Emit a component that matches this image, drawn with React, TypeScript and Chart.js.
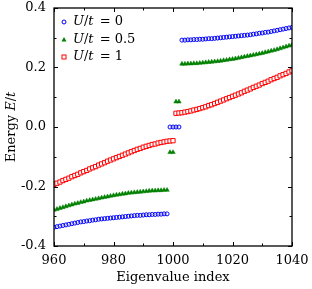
import React, { useEffect, useRef } from "react";
import { Chart, registerables } from "chart.js";

Chart.register(...registerables);

// U/t = 0 (blue)
const blueLowerStart = 960;
const blueLower = [
  -0.337, -0.335, -0.333, -0.331, -0.329, -0.327, -0.325, -0.323, -0.321, -0.319,
  -0.318, -0.316, -0.315, -0.313, -0.312, -0.31, -0.309, -0.308, -0.307, -0.306,
  -0.305, -0.304, -0.303, -0.302, -0.301, -0.3, -0.299, -0.298, -0.297, -0.297,
  -0.296, -0.295, -0.295, -0.294, -0.294, -0.293, -0.293, -0.292, -0.292,
];
const blueMidStart = 999;
const blueMid = [0, 0, 0, 0];
const blueUpperStart = 1003;
const blueUpper = [
  0.292, 0.292, 0.293, 0.293, 0.294, 0.294, 0.295, 0.295, 0.296, 0.297,
  0.297, 0.298, 0.299, 0.3, 0.301, 0.302, 0.303, 0.304, 0.305, 0.306,
  0.307, 0.308, 0.309, 0.31, 0.312, 0.313, 0.315, 0.316, 0.318, 0.319,
  0.321, 0.323, 0.325, 0.327, 0.329, 0.331, 0.333, 0.335,
];

// U/t = 0.5 (green)
const greenLowerStart = 960;
const greenLower = [
  -0.279, -0.276, -0.273, -0.27, -0.267, -0.264, -0.261, -0.258, -0.256, -0.253,
  -0.251, -0.248, -0.246, -0.244, -0.242, -0.24, -0.238, -0.236, -0.234, -0.232,
  -0.23, -0.228, -0.227, -0.225, -0.224, -0.222, -0.221, -0.22, -0.219, -0.218,
  -0.217, -0.216, -0.215, -0.214, -0.214, -0.213, -0.213, -0.212, -0.212,
];
const greenMidStart = 999;
const greenMid = [-0.085, -0.085, 0.085, 0.085];
const greenUpperStart = 1003;
const greenUpper = [
  0.212, 0.212, 0.213, 0.213, 0.214, 0.214, 0.215, 0.216, 0.217, 0.218,
  0.219, 0.22, 0.221, 0.222, 0.224, 0.225, 0.227, 0.228, 0.23, 0.232,
  0.234, 0.236, 0.238, 0.24, 0.242, 0.244, 0.246, 0.248, 0.251, 0.253,
  0.256, 0.258, 0.261, 0.264, 0.267, 0.27, 0.273, 0.276,
];

// U/t = 1 (red)
const redLowerStart = 960;
const redLower = [
  -0.193, -0.189, -0.185, -0.18, -0.176, -0.172, -0.167, -0.163, -0.159, -0.154,
  -0.15, -0.146, -0.141, -0.137, -0.133, -0.128, -0.124, -0.12, -0.115, -0.111,
  -0.107, -0.103, -0.099, -0.095, -0.091, -0.087, -0.083, -0.079, -0.075, -0.072,
  -0.068, -0.065, -0.062, -0.059, -0.057, -0.054, -0.052, -0.05, -0.048, -0.047,
  -0.046,
];
const redUpperStart = 1001;
const redUpper = [
  0.046, 0.047, 0.048, 0.05, 0.052, 0.054, 0.057, 0.059, 0.062, 0.065,
  0.068, 0.072, 0.075, 0.079, 0.083, 0.087, 0.091, 0.095, 0.099, 0.103,
  0.107, 0.111, 0.115, 0.12, 0.124, 0.128, 0.133, 0.137, 0.141, 0.146,
  0.15, 0.154, 0.159, 0.163, 0.167, 0.172, 0.176, 0.18, 0.185, 0.189,
];

const seriesLabels = ["0", "0.5", "1"];
const xTicksMajor = [960, 980, 1000, 1020, 1040];
const xTicksMinor = [970, 990, 1010, 1030];
const yTicksMajor = [-0.4, -0.2, 0, 0.2, 0.4];
const yTicksMinor = [-0.3, -0.1, 0.1, 0.3];

const FONT = "'DejaVu Serif', serif";

function seg(start: number, vals: number[]) {
  return vals.map((v, i) => ({ x: start + i, y: v }));
}

const framePlugin = {
  id: "frameTicks",
  afterDatasetsDraw(chart: any) {
    const { ctx, chartArea } = chart;
    const { left, right, top, bottom } = chartArea;
    const xs = chart.scales.x;
    const ys = chart.scales.y;
    ctx.save();
    ctx.strokeStyle = "#000";
    ctx.lineWidth = 1;
    const tick = (vals: number[], len: number) => {
      vals.forEach((v) => {
        const px = Math.round(xs.getPixelForValue(v)) + 0.5;
        ctx.beginPath();
        ctx.moveTo(px, bottom);
        ctx.lineTo(px, bottom - len);
        ctx.moveTo(px, top);
        ctx.lineTo(px, top + len);
        ctx.stroke();
      });
    };
    const ytick = (vals: number[], len: number) => {
      vals.forEach((v) => {
        const py = Math.round(ys.getPixelForValue(v)) + 0.5;
        ctx.beginPath();
        ctx.moveTo(left, py);
        ctx.lineTo(left + len, py);
        ctx.moveTo(right, py);
        ctx.lineTo(right - len, py);
        ctx.stroke();
      });
    };
    tick(xTicksMajor, 4);
    tick(xTicksMinor, 2.5);
    ytick(yTicksMajor, 4);
    ytick(yTicksMinor, 2.5);
    ctx.lineWidth = 1.3;
    ctx.strokeRect(left, top, right - left, bottom - top);

    // legend
    const colors = ["#0000ff", "#008000", "#ff0000"];
    const styles = ["circle", "triangle", "rect"];
    const lx = left + 10;
    const ly0 = top + 14;
    const dy = 17.5;
    seriesLabels.forEach((lab, i) => {
      const y = ly0 + i * dy;
      ctx.save();
      ctx.strokeStyle = colors[i];
      ctx.fillStyle = colors[i];
      ctx.lineWidth = 1;
      if (styles[i] === "circle") {
        ctx.beginPath();
        ctx.arc(lx, y, 2, 0, Math.PI * 2);
        ctx.stroke();
      } else if (styles[i] === "triangle") {
        ctx.beginPath();
        ctx.moveTo(lx, y - 2.5);
        ctx.lineTo(lx + 2.5, y + 2);
        ctx.lineTo(lx - 2.5, y + 2);
        ctx.closePath();
        ctx.fill();
      } else {
        ctx.strokeRect(lx - 2, y - 2, 4, 4);
      }
      ctx.restore();
      ctx.fillStyle = "#000";
      ctx.textBaseline = "middle";
      ctx.textAlign = "left";
      ctx.font = "italic 13px " + FONT;
      let x = lx + 9;
      ctx.fillText("U", x, y);
      x += ctx.measureText("U").width;
      ctx.font = "13px " + FONT;
      ctx.fillText("/", x, y);
      x += ctx.measureText("/").width;
      ctx.font = "italic 13px " + FONT;
      ctx.fillText("t", x, y);
      x += ctx.measureText("t").width;
      ctx.font = "13px " + FONT;
      ctx.fillText(" = " + lab, x + 2, y);
    });

    // y title
    ctx.save();
    ctx.translate(12, (top + bottom) / 2);
    ctx.rotate(-Math.PI / 2);
    ctx.textBaseline = "middle";
    ctx.textAlign = "left";
    ctx.font = "13px " + FONT;
    const p1 = "Energy ";
    const w1 = ctx.measureText(p1).width;
    ctx.font = "italic 13px " + FONT;
    const wE = ctx.measureText("E").width;
    ctx.font = "13px " + FONT;
    const wS = ctx.measureText("/").width;
    ctx.font = "italic 13px " + FONT;
    const wt = ctx.measureText("t").width;
    let x = -(w1 + wE + wS + wt) / 2;
    ctx.font = "13px " + FONT;
    ctx.fillText(p1, x, 0);
    x += w1;
    ctx.font = "italic 13px " + FONT;
    ctx.fillText("E", x, 0);
    x += wE;
    ctx.font = "13px " + FONT;
    ctx.fillText("/", x, 0);
    x += wS;
    ctx.font = "italic 13px " + FONT;
    ctx.fillText("t", x, 0);
    ctx.restore();

    // x title
    ctx.textAlign = "center";
    ctx.textBaseline = "middle";
    ctx.font = "13px " + FONT;
    ctx.fillText("Eigenvalue index", (left + right) / 2, 278);
    ctx.restore();
  },
};

function zeroPad(s: any) {
  s.paddingLeft = 0;
  s.paddingRight = 0;
  s.paddingTop = 0;
  s.paddingBottom = 0;
}

export default function App() {
  const ref = useRef<HTMLCanvasElement | null>(null);
  useEffect(() => {
    if (!ref.current) return;
    const blue = [...seg(blueLowerStart, blueLower), ...seg(blueMidStart, blueMid), ...seg(blueUpperStart, blueUpper)];
    const green = [...seg(greenLowerStart, greenLower), ...seg(greenMidStart, greenMid), ...seg(greenUpperStart, greenUpper)];
    const red = [...seg(redLowerStart, redLower), ...seg(redUpperStart, redUpper)];
    const chart = new Chart(ref.current, {
      type: "scatter",
      data: {
        datasets: [
          {
            label: "U/t = 0",
            data: blue,
            pointStyle: "circle",
            pointRadius: 2,
            borderColor: "#0000ff",
            backgroundColor: "rgba(255,255,255,0)",
            borderWidth: 1,
          },
          {
            label: "U/t = 0.5",
            data: green,
            pointStyle: "triangle",
            pointRadius: 2.6,
            borderColor: "#008000",
            backgroundColor: "#008000",
            borderWidth: 0.5,
          },
          {
            label: "U/t = 1",
            data: red,
            pointStyle: "rect",
            pointRadius: 3,
            borderColor: "#ff0000",
            backgroundColor: "#ffffff",
            borderWidth: 1,
          },
        ],
      },
      options: {
        responsive: false,
        animation: false,
        layout: { padding: { top: 8, right: 20, left: 0, bottom: 0 } },
        plugins: { legend: { display: false }, tooltip: { enabled: false } },
        scales: {
          x: {
            type: "linear",
            min: 960,
            max: 1040,
            afterFit: (s: any) => {
              s.height = 43;
              zeroPad(s);
            },
            afterBuildTicks: (s: any) => {
              s.ticks = xTicksMajor.map((v) => ({ value: v }));
            },
            grid: { display: false, drawTicks: false },
            border: { display: false },
            ticks: {
              color: "#000",
              font: { family: FONT, size: 13 },
              padding: 7,
              maxRotation: 0,
              callback: (v: any) => String(v),
            },
          },
          y: {
            type: "linear",
            min: -0.4,
            max: 0.4,
            afterFit: (s: any) => {
              s.width = 54;
              zeroPad(s);
            },
            afterBuildTicks: (s: any) => {
              s.ticks = yTicksMajor.map((v) => ({ value: v }));
            },
            grid: { display: false, drawTicks: false },
            border: { display: false },
            ticks: {
              color: "#000",
              font: { family: FONT, size: 13 },
              padding: 8,
              callback: (v: any) => Number(v).toFixed(1),
            },
          },
        },
      },
      plugins: [framePlugin],
    });
    return () => chart.destroy();
  }, []);
  return (
    <canvas
      ref={ref}
      width={312}
      height={289}
      style={{ position: "absolute", left: 0, top: 0, width: 312, height: 289 }}
    />
  );
}
